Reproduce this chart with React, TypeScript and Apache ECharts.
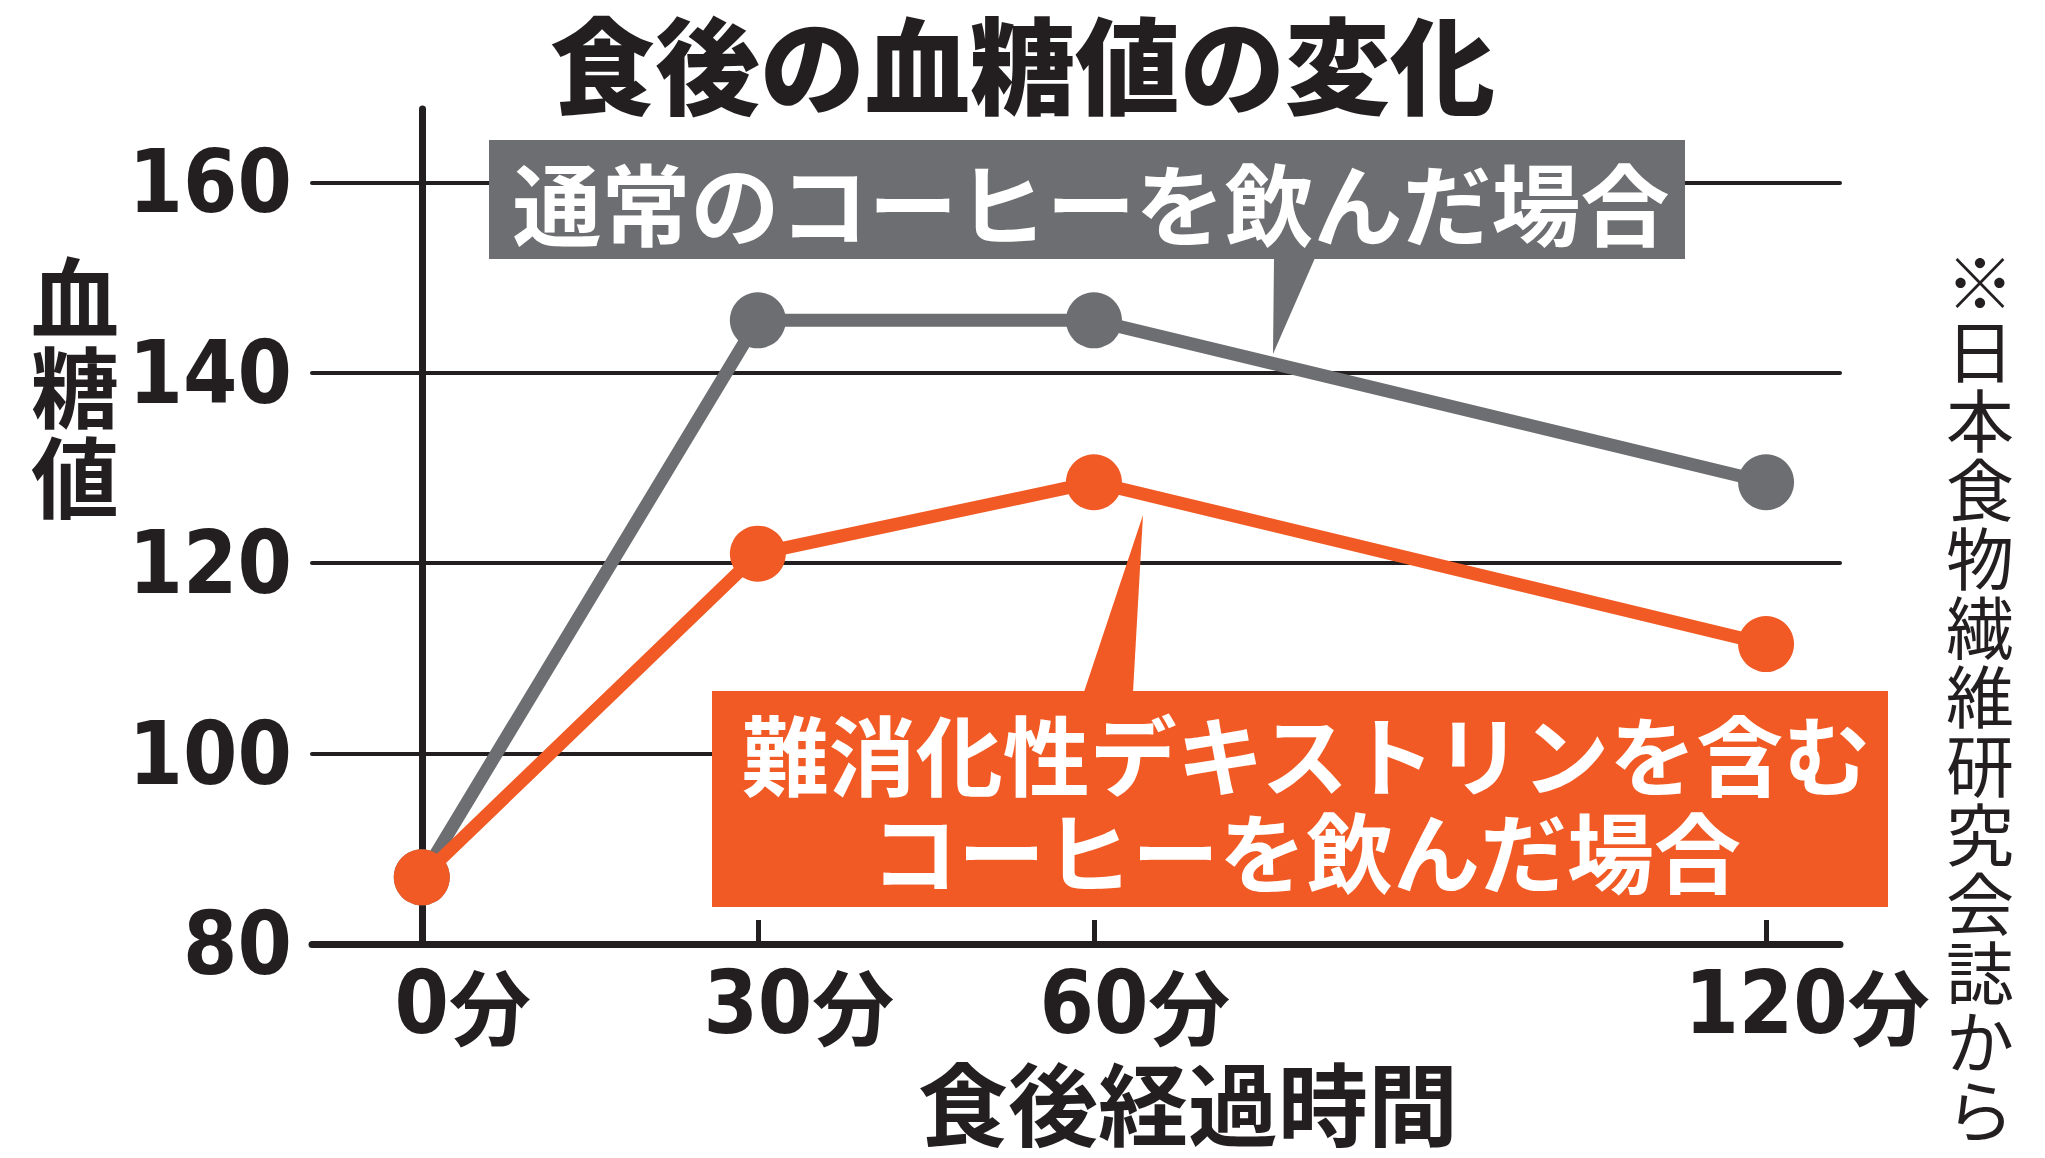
import React, { useEffect, useRef } from "react";
import * as echarts from "echarts";

// ---- data ----
const minutes = [0, 30, 60, 120];
const regularCoffee = [87, 145.5, 145.5, 128.5];
const dextrinCoffee = [87, 121, 128.5, 111.5];
const yMin = 80;
const yMax = 167.7;
const yInterval = 20;

// ---- texts ----
const TITLE = "食後の血糖値の変化";
const Y_NAME = "血糖値";
const X_NAME = "食後経過時間";
const X_UNIT = "分";
const REGULAR_LABEL = "通常のコーヒーを飲んだ場合";
const DEXTRIN_LABEL = ["難消化性デキストリンを含む", "コーヒーを飲んだ場合"];
const SOURCE = "※日本食物繊維研究会誌から";

const GRAY = "#6d6e71";
const ORANGE = "#f15a24";
const INK = "#231f20";
const JP = "'Noto Sans CJK JP', 'Noto Sans', sans-serif";
const NUM = "'Liberation Sans Narrow', 'DejaVu Sans Condensed', 'Noto Sans CJK JP', sans-serif";

export default function App() {
  const ref = useRef<HTMLDivElement>(null);
  useEffect(() => {
    if (!ref.current) return;
    const chart = echarts.init(ref.current, undefined, { renderer: "svg" });
    const option: any = {
      animation: false,
      backgroundColor: "#ffffff",
      title: {
        text: TITLE,
        left: "center",
        top: 6,
        padding: 0,
        textStyle: { fontFamily: JP, fontSize: 105, fontWeight: 900, color: INK, lineHeight: 108 },
      },
      grid: { left: 312, right: 205, top: 109, bottom: 214, containLabel: false },
      xAxis: {
        type: "value",
        min: -9.8,
        max: 126.6,
        axisLine: { show: true, lineStyle: { color: INK, width: 7, cap: "round" } },
        axisTick: {
          show: true,
          inside: true,
          length: 24,
          customValues: minutes,
          lineStyle: { color: INK, width: 5 },
        },
        axisLabel: {
          customValues: minutes,
          margin: 14,
          formatter: (v: number) => `{pad|${X_UNIT}}{n|${v}}{u|${X_UNIT}}`,
          rich: {
            pad: { fontFamily: JP, fontSize: 82, fontWeight: "bold", color: "transparent", lineHeight: 90 },
            n: { fontFamily: NUM, fontSize: 87, fontWeight: "bold", color: INK, lineHeight: 90 },
            u: { fontFamily: JP, fontSize: 82, fontWeight: "bold", color: INK, lineHeight: 90 },
          },
        },
        splitLine: { show: false },
      },
      yAxis: {
        type: "value",
        min: yMin,
        max: yMax,
        interval: yInterval,
        axisLine: { show: true, lineStyle: { color: INK, width: 7, cap: "round" } },
        axisTick: { show: false },
        axisLabel: {
          showMaxLabel: false,
          margin: 20,
          fontFamily: NUM,
          fontSize: 87,
          fontWeight: "bold",
          color: INK,
        },
        splitLine: {
          show: true,
          showMinLine: false,
          showMaxLine: false,
          lineStyle: { color: INK, width: 4, cap: "round" },
        },
      },
      series: [
        {
          type: "line",
          name: REGULAR_LABEL,
          data: minutes.map((m, i) => [m, regularCoffee[i]]),
          symbol: "circle",
          symbolSize: 56,
          lineStyle: { color: GRAY, width: 13 },
          itemStyle: { color: GRAY },
          z: 3,
        },
        {
          type: "line",
          name: DEXTRIN_LABEL.join(""),
          data: minutes.map((m, i) => [m, dextrinCoffee[i]]),
          symbol: "circle",
          symbolSize: 56,
          lineStyle: { color: ORANGE, width: 13 },
          itemStyle: { color: ORANGE },
          z: 4,
        },
      ],
      graphic: [
        {
          type: "rect",
          z: 10,
          shape: { x: 489, y: 140, width: 1196, height: 119 },
          style: { fill: GRAY },
        },
        {
          type: "polygon",
          z: 10,
          shape: { points: [[1274, 258], [1315, 258], [1273, 354]] },
          style: { fill: GRAY },
        },
        {
          type: "text",
          z: 11,
          x: 1091,
          y: 200,
          style: {
            text: REGULAR_LABEL,
            fontFamily: JP,
            fontSize: 89,
            fontWeight: "bold",
            fill: "#ffffff",
            textAlign: "center",
            textVerticalAlign: "middle",
          },
        },
        {
          type: "rect",
          z: 10,
          shape: { x: 712, y: 691, width: 1176, height: 216 },
          style: { fill: ORANGE },
        },
        {
          type: "polygon",
          z: 10,
          shape: { points: [[1084, 692], [1133, 692], [1143, 515]] },
          style: { fill: ORANGE },
        },
        {
          type: "text",
          z: 11,
          x: 1306,
          y: 800,
          style: {
            text: DEXTRIN_LABEL.join("\n"),
            fontFamily: JP,
            fontSize: 87,
            fontWeight: "bold",
            lineHeight: 97,
            fill: "#ffffff",
            textAlign: "center",
            textVerticalAlign: "middle",
          },
        },
        {
          type: "text",
          z: 11,
          x: 75,
          y: 382,
          style: {
            text: Y_NAME.split("").join("\n"),
            fontFamily: JP,
            fontSize: 88,
            fontWeight: "bold",
            lineHeight: 90,
            fill: INK,
            textAlign: "center",
            textVerticalAlign: "middle",
          },
        },
        {
          type: "text",
          z: 11,
          x: 1188,
          y: 1100,
          style: {
            text: X_NAME,
            fontFamily: JP,
            fontSize: 90,
            fontWeight: "bold",
            fill: INK,
            textAlign: "center",
            textVerticalAlign: "middle",
          },
        },
        {
          type: "text",
          z: 11,
          x: 1980,
          y: 693,
          style: {
            text: SOURCE.split("").join("\n"),
            fontFamily: JP,
            fontSize: 68,
            fontWeight: "normal",
            lineHeight: 69,
            fill: INK,
            textAlign: "center",
            textVerticalAlign: "middle",
          },
        },
      ],
    };
    chart.setOption(option);
    return () => chart.dispose();
  }, []);
  return (
    <div
      ref={ref}
      style={{ position: "absolute", left: 0, top: 0, width: 2045, height: 1158, background: "#fff" }}
    />
  );
}
